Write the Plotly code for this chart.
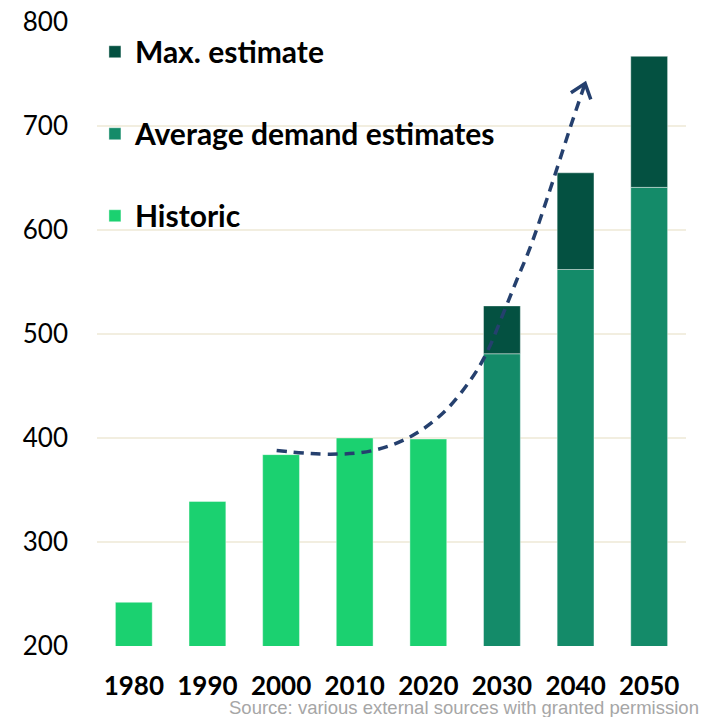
import math
import plotly.graph_objects as go

hist_years = [1980, 1990, 2000, 2010, 2020]
hist_values = [242, 339, 384, 400, 399]
fc_years = [2030, 2040, 2050]
avg_values = [481, 562, 641]
max_values = [527, 655, 767]
tick_years = [1980, 1990, 2000, 2010, 2020, 2030, 2040, 2050]
tick_labels = [str(y) for y in tick_years]
trend_x = [1999.4, 2006.7, 2012.5, 2017.5, 2022.0, 2025.7, 2027.9, 2030.2, 2032.0, 2033.8, 2036.5, 2039.3, 2041.3]
trend_y = [388, 384.4, 388, 401, 424, 455.5, 481.5, 520, 551.7, 582.5, 638, 699, 741]
source_text = "Source: various external sources with granted permission"

C_HIST = "#1BD170"
C_AVG = "#148B69"
C_MAX = "#045141"
C_LINE = "#25406E"

W, H = 705, 717
ML, MR, MT, MB = 97, 19, 22, 71
XR = [1975, 2055]
YR = [200, 800]

fig = go.Figure()
edge = dict(width=1, color="rgba(255,255,255,0.4)")
fig.add_trace(go.Bar(x=hist_years, y=hist_values, name="Historic", width=5, legendrank=3,
                     marker=dict(color=C_HIST, line=edge), legendgroup="h"))
fig.add_trace(go.Bar(x=fc_years, y=avg_values, name="Average demand estimates", width=5, legendrank=2,
                     marker=dict(color=C_AVG, line=edge), legendgroup="a"))
fig.add_trace(go.Bar(x=fc_years, y=[m - a for m, a in zip(max_values, avg_values)], base=avg_values,
                     name="Max. estimate", width=5, legendrank=1,
                     marker=dict(color=C_MAX, line=edge), legendgroup="m"))
fig.add_trace(go.Scatter(x=trend_x, y=trend_y, mode="lines", showlegend=False, hoverinfo="skip",
                         line=dict(color=C_LINE, width=3.5, dash="10px,7px", shape="spline", smoothing=1)))

# open chevron arrowhead at the end of the trend curve, built in pixel space
sx = (W - ML - MR) / (XR[1] - XR[0])
sy = (H - MT - MB) / (YR[1] - YR[0])
dx = (trend_x[-1] - trend_x[-2]) * sx
dy = (trend_y[-1] - trend_y[-2]) * sy
ang = math.atan2(dy, dx)
arm, spread = 17, math.radians(38)
hx, hy = [], []
for s in (spread, None, -spread):
    if s is None:
        hx.append(trend_x[-1]); hy.append(trend_y[-1])
    else:
        a = ang + math.pi + s
        hx.append(trend_x[-1] + arm * math.cos(a) / sx)
        hy.append(trend_y[-1] + arm * math.sin(a) / sy)
fig.add_trace(go.Scatter(x=hx, y=hy, mode="lines", showlegend=False, hoverinfo="skip",
                         line=dict(color=C_LINE, width=3.5)))

fig.update_layout(
    width=W, height=H,
    margin=dict(l=ML, r=MR, t=MT, b=MB),
    paper_bgcolor="white", plot_bgcolor="white",
    barmode="overlay",
    font=dict(family="Lato", color="black"),
    legend=dict(x=-0.0035, y=0.994, xanchor="left", yanchor="top", traceorder="grouped",
                tracegroupgap=40, font=dict(family="Lato", size=30, color="black", weight="bold"),
                bgcolor="rgba(0,0,0,0)"),
    xaxis=dict(range=XR, tickvals=tick_years, ticktext=tick_labels, showgrid=False, automargin=False,
               zeroline=False, showline=False, ticks="", ticklabelstandoff=22,
               tickfont=dict(family="Lato", size=26, color="black", weight="bold")),
    yaxis=dict(range=YR, dtick=100, tick0=0, showgrid=True, gridcolor="#F2EEE0", gridwidth=2,
               automargin=False, zeroline=False, showline=False, ticks="", ticklabelstandoff=28,
               tickfont=dict(family="Lato", size=26, color="black")),
    annotations=[dict(text=source_text, xref="paper", yref="paper", x=1.025, y=0, xanchor="right",
                      yanchor="middle", yshift=-61, showarrow=False,
                      font=dict(family="Liberation Sans", size=18.5, color="#A6A6A6"))],
)

fig.write_html("out.html", config={"displayModeBar": False},
               post_script="document.body.style.margin='0';document.body.style.overflow='hidden';")
